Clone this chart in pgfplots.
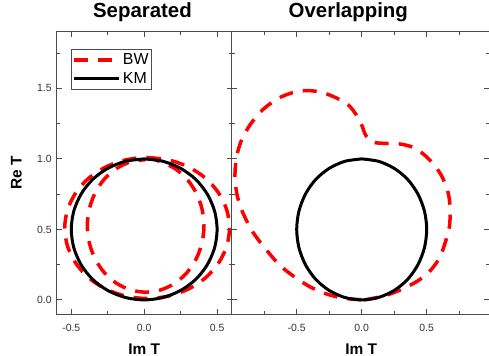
\documentclass[border=0pt]{standalone}
\usepackage{pgfplots}
\pgfplotsset{compat=1.18}
\usepackage{fontspec}
\setmainfont{Liberation Sans}
\definecolor{axgray}{gray}{0.3}
\begin{document}
\begin{tikzpicture}
\pgfplotsset{
  every axis/.append style={
    scale only axis,
    ymin=-0.1, ymax=1.9,
    ytick={0,0.5,1,1.5},
    minor ytick={0.25,0.75,1.25,1.75},
    tick align=inside,
    major tick length=5bp, minor tick length=3bp,
    axis line style={axgray, line width=1bp},
    tick style={axgray, line width=1bp},
    tick label style={font=\fontsize{10.5}{12}\selectfont, text=black!80},
    /pgf/number format/.cd, fixed, fixed zerofill, precision=1, assume math mode=true,
  },
}
\tikzset{
  bwline/.style={red, line width=3.5bp, dash pattern=on 14bp off 10bp},
  kmline/.style={black, line width=3bp},
}
% ---------- left panel ----------
\begin{axis}[
  at={(0,0)}, anchor=south west,
  width=175bp, height=282bp,
  xmin=-0.6, xmax=0.6,
  xtick={-0.5,0,0.5},
  minor xtick={-0.25,0.25},
  xticklabel style={anchor=base, yshift=-17.7bp},
  yticklabel style={xshift=-1.5bp},
  title={Separated},
  title style={at={(axis description cs:0.49,1.0309)}, anchor=base, font=\fontsize{20.5}{24}\selectfont\bfseries},
  xlabel={Im T},
  xlabel style={at={(axis description cs:0.5,-0.1429)}, anchor=base, font=\fontsize{15.5}{18}\selectfont\bfseries},
  ylabel={Re T},
  every axis y label/.style={at={(axis description cs:-0.2,0.5)}, anchor=base, rotate=90, font=\fontsize{15.5}{18}\selectfont\bfseries},
  legend style={at={(axis description cs:0.0817,0.94)}, anchor=north west,
    font=\fontsize{16}{18}\selectfont, draw=axgray, line width=0.8bp,
    inner xsep=1bp, inner ysep=1bp,
    nodes={inner sep=2bp, text height=12bp, text depth=3bp}},
  legend cell align=left,
  legend image code/.code={\draw[#1] (0bp,0bp) -- (39bp,0bp); \path (0bp,0bp) -- (45bp,0bp);},
]
\addplot[bwline, smooth] coordinates {
(0.020,1.010) (0.166,0.993) (0.303,0.943) (0.420,0.864) (0.509,0.760) (0.566,0.639)
(0.585,0.510) (0.566,0.381) (0.509,0.260) (0.420,0.156) (0.303,0.077) (0.166,0.027)
(0.020,0.010) (-0.126,0.027) (-0.263,0.077) (-0.380,0.156) (-0.469,0.260) (-0.526,0.381)
(-0.545,0.510) (-0.526,0.639) (-0.469,0.760) (-0.380,0.864) (-0.263,0.943) (-0.126,0.993)
(0.020,1.010)
(0.114,0.979) (0.210,0.932) (0.293,0.857) (0.356,0.760) (0.396,0.647) (0.410,0.525)
(0.396,0.403) (0.356,0.290) (0.293,0.193) (0.210,0.118) (0.114,0.071) (0.010,0.055)
(-0.094,0.071) (-0.190,0.118) (-0.273,0.193) (-0.336,0.290) (-0.376,0.403) (-0.390,0.525)
(-0.376,0.647) (-0.336,0.760) (-0.273,0.857) (-0.190,0.932) (-0.094,0.979) (0.010,0.995)
};
\addlegendentry{BW}
\addplot[kmline, smooth] coordinates {
(0,1) (0.129,0.983) (0.25,0.933) (0.354,0.854) (0.433,0.75) (0.483,0.629) (0.5,0.5)
(0.483,0.371) (0.433,0.25) (0.354,0.146) (0.25,0.067) (0.129,0.017) (0,0)
(-0.129,0.017) (-0.25,0.067) (-0.354,0.146) (-0.433,0.25) (-0.483,0.371) (-0.5,0.5)
(-0.483,0.629) (-0.433,0.75) (-0.354,0.854) (-0.25,0.933) (-0.129,0.983) (0,1)
};
\addlegendentry{KM}
\end{axis}
% ---------- right panel ----------
\begin{axis}[
  at={(175bp,0)}, anchor=south west,
  width=257.4bp, height=282bp,
  xmin=-1, xmax=0.98,
  xtick={-0.5,0,0.5},
  minor xtick={-0.75,-0.25,0.25,0.75},
  yticklabels={},
  xticklabel style={anchor=base, yshift=-17.7bp},
  title={Overlapping},
  title style={at={(axis description cs:0.453,1.0309)}, anchor=base, font=\fontsize{20.5}{24}\selectfont\bfseries},
  xlabel={Im T},
  xlabel style={at={(axis description cs:0.503,-0.1429)}, anchor=base, font=\fontsize{15.5}{18}\selectfont\bfseries},
]
\addplot[bwline, smooth] coordinates {
(0.02,0.0) (0.18,0.03) (0.32,0.08) (0.44,0.14) (0.53,0.21) (0.60,0.30) (0.64,0.40)
(0.675,0.52) (0.68,0.65) (0.665,0.76) (0.62,0.87) (0.56,0.955) (0.48,1.03) (0.40,1.08)
(0.30,1.105) (0.18,1.11) (0.08,1.12) (0.03,1.17) (0.0,1.24) (-0.04,1.31) (-0.10,1.38)
(-0.19,1.43) (-0.30,1.47) (-0.42,1.485) (-0.53,1.47) (-0.64,1.43) (-0.76,1.35)
(-0.86,1.24) (-0.93,1.12) (-0.965,1.0) (-0.975,0.86) (-0.955,0.73) (-0.915,0.62)
(-0.85,0.50) (-0.79,0.42) (-0.72,0.34) (-0.63,0.245) (-0.52,0.165) (-0.40,0.094)
(-0.28,0.045) (-0.14,0.012) (0.02,0.0)
};
\addplot[kmline, smooth] coordinates {
(0,1) (0.129,0.983) (0.25,0.933) (0.354,0.854) (0.433,0.75) (0.483,0.629) (0.5,0.5)
(0.483,0.371) (0.433,0.25) (0.354,0.146) (0.25,0.067) (0.129,0.017) (0,0)
(-0.129,0.017) (-0.25,0.067) (-0.354,0.146) (-0.433,0.25) (-0.483,0.371) (-0.5,0.5)
(-0.483,0.629) (-0.433,0.75) (-0.354,0.854) (-0.25,0.933) (-0.129,0.983) (0,1)
};
\end{axis}
\pgfresetboundingbox
\path[use as bounding box] (-56.7bp,-42bp) rectangle (432.3bp,314bp);
\end{tikzpicture}
\end{document}
